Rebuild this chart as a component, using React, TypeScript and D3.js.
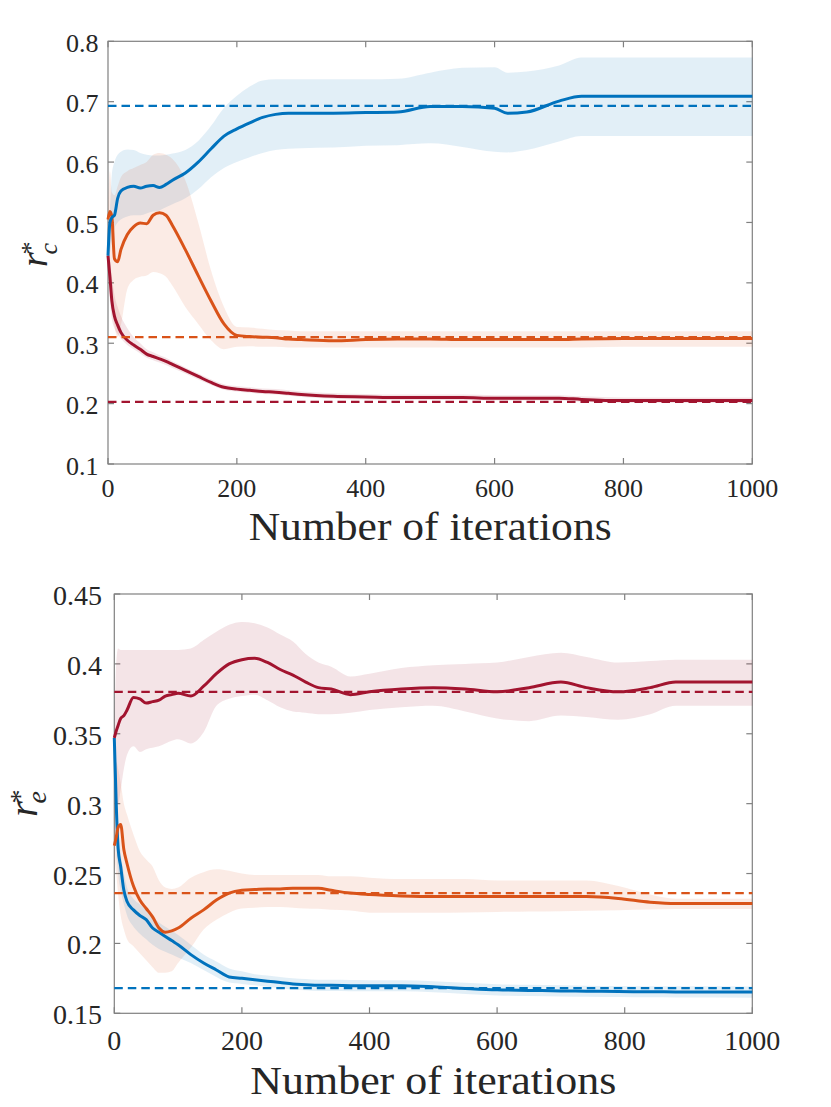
import React from 'react';
import * as d3 from 'd3';

// ---------- data ----------
const ITER_TOP = [0,3,6,10,15,20,30,40,50,60,70,80,90,100,120,140,160,180,200,220,240,260,280,300,350,400,450,500,550,600,620,650,700,735,800,900,1000];

const topBlueMean = [0.445,0.5,0.508,0.512,0.54,0.552,0.558,0.56,0.557,0.56,0.561,0.558,0.563,0.57,0.582,0.6,0.622,0.643,0.655,0.665,0.674,0.679,0.681,0.681,0.681,0.682,0.683,0.692,0.692,0.689,0.681,0.683,0.701,0.709,0.709,0.709,0.709];
const topBlueHi = [0.45,0.52,0.58,0.6,0.612,0.617,0.621,0.62,0.615,0.612,0.611,0.611,0.612,0.614,0.62,0.635,0.66,0.69,0.71,0.725,0.735,0.737,0.737,0.737,0.737,0.737,0.738,0.748,0.756,0.757,0.748,0.75,0.76,0.773,0.773,0.773,0.773];
const topBlueLo = [0.44,0.45,0.47,0.49,0.5,0.505,0.51,0.512,0.512,0.515,0.518,0.52,0.525,0.53,0.54,0.555,0.575,0.59,0.6,0.608,0.615,0.62,0.622,0.623,0.624,0.627,0.628,0.631,0.625,0.617,0.616,0.62,0.634,0.643,0.643,0.643,0.643];

const topOrangeMean = [0.505,0.518,0.51,0.44,0.435,0.455,0.48,0.493,0.499,0.498,0.512,0.516,0.512,0.495,0.455,0.412,0.37,0.332,0.313,0.311,0.31,0.309,0.307,0.306,0.304,0.306,0.307,0.307,0.306,0.306,0.306,0.306,0.306,0.307,0.308,0.308,0.308];
const topOrangeHi = [0.52,0.585,0.55,0.545,0.56,0.575,0.585,0.59,0.595,0.6,0.612,0.615,0.612,0.605,0.57,0.5,0.42,0.36,0.327,0.326,0.324,0.322,0.321,0.32,0.32,0.32,0.32,0.32,0.32,0.32,0.32,0.32,0.32,0.32,0.32,0.32,0.32];
const topOrangeLo = [0.5,0.42,0.37,0.33,0.31,0.33,0.39,0.405,0.41,0.412,0.418,0.416,0.41,0.395,0.36,0.332,0.305,0.29,0.294,0.295,0.294,0.294,0.293,0.293,0.293,0.293,0.293,0.293,0.293,0.293,0.293,0.293,0.293,0.293,0.294,0.294,0.294];

const topRedMean = [0.445,0.41,0.37,0.345,0.33,0.318,0.305,0.297,0.29,0.282,0.278,0.274,0.27,0.265,0.255,0.245,0.235,0.227,0.224,0.222,0.22,0.219,0.217,0.215,0.212,0.211,0.21,0.21,0.21,0.209,0.209,0.209,0.209,0.207,0.205,0.205,0.205];
const topRedHi = [0.46,0.44,0.41,0.38,0.36,0.345,0.325,0.31,0.3,0.29,0.285,0.28,0.276,0.27,0.26,0.25,0.24,0.232,0.229,0.227,0.225,0.224,0.222,0.22,0.217,0.216,0.215,0.215,0.215,0.214,0.214,0.214,0.214,0.212,0.21,0.21,0.21];
const topRedLo = [0.43,0.37,0.34,0.325,0.315,0.308,0.297,0.29,0.283,0.276,0.272,0.268,0.264,0.259,0.25,0.24,0.231,0.223,0.22,0.218,0.216,0.215,0.213,0.211,0.208,0.207,0.206,0.206,0.206,0.205,0.205,0.205,0.205,0.203,0.201,0.201,0.201];

const topRefs = [0.693, 0.31, 0.203]; // blue, orange, red
const topYTicks = [0.1,0.2,0.3,0.4,0.5,0.6,0.7,0.8];
const topYTickLabels = ['0.1','0.2','0.3','0.4','0.5','0.6','0.7','0.8'];

const ITER_BOT = [0,3,6,10,15,20,30,40,50,60,70,80,90,100,120,140,160,180,200,220,240,260,280,300,320,340,370,400,450,500,550,600,650,700,740,790,840,880,1000];

const botRedMean = [0.347,0.352,0.356,0.361,0.363,0.367,0.376,0.375,0.372,0.373,0.374,0.377,0.378,0.379,0.377,0.384,0.393,0.4,0.403,0.404,0.401,0.396,0.392,0.387,0.383,0.382,0.378,0.38,0.382,0.383,0.382,0.38,0.383,0.387,0.383,0.38,0.383,0.387,0.387];
const botRedHi = [0.35,0.4,0.411,0.41,0.41,0.41,0.41,0.41,0.41,0.41,0.41,0.41,0.41,0.41,0.411,0.417,0.423,0.428,0.43,0.429,0.426,0.421,0.416,0.407,0.401,0.398,0.391,0.393,0.397,0.399,0.4,0.401,0.405,0.408,0.405,0.401,0.402,0.403,0.403];
const botRedLo = [0.345,0.3,0.3,0.31,0.325,0.335,0.341,0.337,0.339,0.34,0.341,0.343,0.345,0.346,0.343,0.351,0.37,0.375,0.377,0.378,0.374,0.369,0.366,0.365,0.364,0.364,0.365,0.367,0.369,0.37,0.366,0.361,0.359,0.363,0.362,0.36,0.364,0.37,0.37];

const botOrangeMean = [0.27,0.276,0.283,0.285,0.267,0.257,0.241,0.231,0.225,0.219,0.211,0.208,0.209,0.211,0.218,0.224,0.231,0.236,0.238,0.2385,0.239,0.239,0.2395,0.2395,0.2395,0.238,0.236,0.235,0.234,0.2335,0.2335,0.2335,0.2335,0.2335,0.2335,0.2322,0.2295,0.2285,0.2285];
const botOrangeHi = [0.28,0.33,0.325,0.315,0.3,0.292,0.278,0.266,0.26,0.255,0.245,0.24,0.239,0.24,0.247,0.251,0.253,0.252,0.25,0.249,0.249,0.249,0.249,0.249,0.249,0.248,0.248,0.247,0.246,0.246,0.246,0.245,0.245,0.245,0.245,0.241,0.235,0.232,0.232];
const botOrangeLo = [0.26,0.25,0.235,0.22,0.21,0.203,0.198,0.193,0.188,0.183,0.179,0.179,0.18,0.186,0.197,0.21,0.217,0.222,0.225,0.2255,0.226,0.226,0.2255,0.225,0.2248,0.224,0.2235,0.222,0.222,0.222,0.2222,0.2225,0.2228,0.223,0.2233,0.2238,0.2243,0.2247,0.2247];

const botBlueMean = [0.347,0.3,0.268,0.255,0.238,0.23,0.224,0.22,0.217,0.211,0.208,0.205,0.202,0.199,0.192,0.186,0.181,0.176,0.175,0.174,0.173,0.172,0.171,0.1705,0.17,0.17,0.1698,0.1697,0.1697,0.169,0.1678,0.1668,0.1664,0.166,0.1658,0.1656,0.1654,0.1653,0.1652];
const botBlueHi = [0.35,0.32,0.285,0.265,0.25,0.24,0.232,0.228,0.224,0.219,0.215,0.212,0.209,0.206,0.199,0.192,0.187,0.182,0.18,0.178,0.177,0.176,0.175,0.1745,0.174,0.174,0.1738,0.1737,0.1737,0.173,0.1718,0.1708,0.1704,0.17,0.1698,0.1696,0.1694,0.1693,0.1692];
const botBlueLo = [0.34,0.27,0.25,0.238,0.228,0.22,0.212,0.207,0.203,0.199,0.196,0.194,0.192,0.19,0.186,0.181,0.176,0.172,0.171,0.17,0.169,0.168,0.167,0.1665,0.166,0.166,0.1658,0.1657,0.1657,0.165,0.1638,0.1628,0.1624,0.162,0.1618,0.1616,0.1614,0.1613,0.1612];

const botRefs = [0.168, 0.236, 0.38]; // blue, orange, red
const botYTicks = [0.15,0.2,0.25,0.3,0.35,0.4,0.45];
const botYTickLabels = ['0.15','0.2','0.25','0.3','0.35','0.4','0.45'];

const xTicks = [0,200,400,600,800,1000];
const xTickLabels = ['0','200','400','600','800','1000'];
const xLabel = 'Number of iterations';

// ---------- style ----------
const BLUE = '#0072BD';
const ORANGE = '#D95319';
const RED = '#A2142F';
const AXIS = '#808080';
const TEXT = '#262626';
const SERIF = '"Liberation Serif", "Times New Roman", serif';
const BAND_OPACITY = 0.115;

type Series = { mean: number[]; lo: number[]; hi: number[]; ref: number; color: string };

type PanelProps = {
  iters: number[];
  series: Series[];
  yDomain: [number, number];
  yTicks: number[];
  yTickLabels: string[];
  box: { left: number; top: number; right: number; bottom: number };
  tickFont: number;
  yTickRight: number;
  yTickDy: number;
  xTickBaseline: number;
  xLabelBaseline: number;
  xLabelWidth: number;
  ylab: { x: number; y: number; r: number; s: number; sub: string; subDy: number };
};

function Panel(p: PanelProps) {
  const { box } = p;
  const x = d3.scaleLinear().domain([0, 1000]).range([box.left, box.right]);
  const y = d3.scaleLinear().domain(p.yDomain).range([box.bottom, box.top]);
  const tl = 6;

  const area = (s: Series) =>
    d3
      .area<number>()
      .x((_, i) => x(p.iters[i]))
      .y0((_, i) => y(s.lo[i]))
      .y1((_, i) => y(s.hi[i]))
      .curve(d3.curveMonotoneX)(s.mean) || '';
  const line = (s: Series) =>
    d3
      .line<number>()
      .x((_, i) => x(p.iters[i]))
      .y((d) => y(d))
      .curve(d3.curveMonotoneX)(s.mean) || '';

  return (
    <g>
      {/* axes box */}
      <rect x={box.left} y={box.top} width={box.right - box.left} height={box.bottom - box.top}
        fill="none" stroke={AXIS} strokeWidth={1.2} />
      {xTicks.map((t) => (
        <g key={'xt' + t}>
          <line x1={x(t)} x2={x(t)} y1={box.bottom} y2={box.bottom - tl} stroke={AXIS} strokeWidth={1.2} />
          <line x1={x(t)} x2={x(t)} y1={box.top} y2={box.top + tl} stroke={AXIS} strokeWidth={1.2} />
        </g>
      ))}
      {p.yTicks.map((t) => (
        <g key={'yt' + t}>
          <line x1={box.left} x2={box.left + tl} y1={y(t)} y2={y(t)} stroke={AXIS} strokeWidth={1.2} />
          <line x1={box.right} x2={box.right - tl} y1={y(t)} y2={y(t)} stroke={AXIS} strokeWidth={1.2} />
        </g>
      ))}

      {/* bands */}
      {p.series.map((s, k) => (
        <path key={'band' + k} d={area(s)} fill={s.color} fillOpacity={BAND_OPACITY} stroke="none" />
      ))}
      {/* mean lines */}
      {[...p.series].reverse().map((s, k) => (
        <path key={'line' + k} d={line(s)} fill="none" stroke={s.color} strokeWidth={3}
          strokeLinejoin="round" strokeLinecap="butt" />
      ))}
      {/* reference (dashed) lines */}
      {p.series.map((s, k) => (
        <line key={'ref' + k} x1={x(0)} x2={x(1000)} y1={y(s.ref)} y2={y(s.ref)}
          stroke={s.color} strokeWidth={2.2} strokeDasharray="8.5,5" />
      ))}

      {/* tick labels */}
      {xTicks.map((t, i) => (
        <text key={'xl' + t} x={x(t)} y={p.xTickBaseline} textAnchor="middle"
          fontFamily={SERIF} fontSize={p.tickFont} fill={TEXT}>{xTickLabels[i]}</text>
      ))}
      {p.yTicks.map((t, i) => (
        <text key={'yl' + t} x={p.yTickRight} y={y(t) + p.yTickDy} textAnchor="end"
          fontFamily={SERIF} fontSize={p.tickFont} fill={TEXT}>{p.yTickLabels[i]}</text>
      ))}

      {/* x label */}
      <text x={(box.left + box.right) / 2} y={p.xLabelBaseline} textAnchor="middle"
        fontFamily={SERIF} fontSize={41} textLength={p.xLabelWidth} lengthAdjust="spacingAndGlyphs"
        fill={TEXT}>{xLabel}</text>

      {/* y label: r*_sub */}
      <text transform={`translate(${p.ylab.x},${p.ylab.y}) rotate(-90)`} fontFamily={SERIF} fill={TEXT}>
        <tspan fontStyle="italic" fontSize={p.ylab.r}>r</tspan>
        <tspan x={p.ylab.r * 0.33} dy={-p.ylab.s * 0.3} fontSize={p.ylab.s}>*</tspan>
        <tspan x={p.ylab.r * 0.33} dy={p.ylab.s * 0.3 + p.ylab.subDy} fontStyle="italic" fontSize={p.ylab.s}>{p.ylab.sub}</tspan>
      </text>
    </g>
  );
}

export default function App() {
  const topSeries: Series[] = [
    { mean: topBlueMean, lo: topBlueLo, hi: topBlueHi, ref: topRefs[0], color: BLUE },
    { mean: topOrangeMean, lo: topOrangeLo, hi: topOrangeHi, ref: topRefs[1], color: ORANGE },
    { mean: topRedMean, lo: topRedLo, hi: topRedHi, ref: topRefs[2], color: RED },
  ];
  const botSeries: Series[] = [
    { mean: botRedMean, lo: botRedLo, hi: botRedHi, ref: botRefs[2], color: RED },
    { mean: botOrangeMean, lo: botOrangeLo, hi: botOrangeHi, ref: botRefs[1], color: ORANGE },
    { mean: botBlueMean, lo: botBlueLo, hi: botBlueHi, ref: botRefs[0], color: BLUE },
  ];
  return (
    <div style={{ position: 'absolute', left: 0, top: 0 }}>
      <svg width={831} height={1107} viewBox="0 0 831 1107" style={{ display: 'block', background: '#fff' }}>
        <Panel
          iters={ITER_TOP}
          series={topSeries}
          yDomain={[0.1, 0.8]}
          yTicks={topYTicks}
          yTickLabels={topYTickLabels}
          box={{ left: 108, top: 41.3, right: 752.3, bottom: 464 }}
          tickFont={26}
          yTickRight={98.5}
          yTickDy={10.5}
          xTickBaseline={497}
          xLabelBaseline={539.5}
          xLabelWidth={363}
          ylab={{ x: 46.7, y: 267, r: 38, s: 26, sub: 'c', subDy: 10 }}
        />
        <Panel
          iters={ITER_BOT}
          series={botSeries}
          yDomain={[0.15, 0.45]}
          yTicks={botYTicks}
          yTickLabels={botYTickLabels}
          box={{ left: 114.3, top: 594, right: 752.3, bottom: 1013.3 }}
          tickFont={28}
          yTickRight={102}
          yTickDy={11}
          xTickBaseline={1050}
          xLabelBaseline={1094}
          xLabelWidth={366}
          ylab={{ x: 37, y: 817, r: 41, s: 28, sub: 'e', subDy: 9 }}
        />
      </svg>
    </div>
  );
}
